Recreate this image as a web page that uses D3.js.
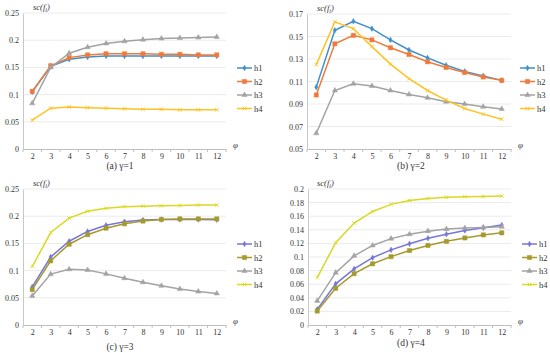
<!DOCTYPE html>
<html>
<head>
<meta charset="utf-8">
<script src="https://cdn.jsdelivr.net/npm/d3@7"></script>
<style>
  body { margin: 0; background: #fff; }
  svg text { font-family: "Liberation Serif", "DejaVu Serif", serif; fill: #333; }
</style>
</head>
<body>
<div id="chart"></div>
<script>
const phi = [2, 3, 4, 5, 6, 7, 8, 9, 10, 11, 12];
const seriesNames = ["h1", "h2", "h3", "h4"];

// (a) gamma = 1
const aH1 = [0.105, 0.152, 0.165, 0.169, 0.171, 0.171, 0.171, 0.171, 0.171, 0.171, 0.171];
const aH2 = [0.106, 0.153, 0.168, 0.173, 0.175, 0.175, 0.175, 0.174, 0.174, 0.173, 0.173];
const aH3 = [0.084, 0.150, 0.176, 0.187, 0.194, 0.198, 0.201, 0.203, 0.204, 0.205, 0.206];
const aH4 = [0.053, 0.075, 0.077, 0.076, 0.075, 0.074, 0.073, 0.073, 0.072, 0.072, 0.072];
const aTicks = [0, 0.05, 0.1, 0.15, 0.2, 0.25];

// (b) gamma = 2
const bH1 = [0.105, 0.1555, 0.1635, 0.157, 0.147, 0.138, 0.131, 0.1245, 0.119, 0.115, 0.111];
const bH2 = [0.098, 0.1435, 0.151, 0.147, 0.140, 0.134, 0.1275, 0.1225, 0.118, 0.114, 0.111];
const bH3 = [0.064, 0.102, 0.108, 0.106, 0.102, 0.0985, 0.0955, 0.092, 0.090, 0.0875, 0.0855];
const bH4 = [0.125, 0.163, 0.157, 0.141, 0.1255, 0.1125, 0.102, 0.0935, 0.086, 0.081, 0.0765];
const bTicks = [0.05, 0.07, 0.09, 0.11, 0.13, 0.15, 0.17];

// (c) gamma = 3
const cH1 = [0.070, 0.125, 0.154, 0.172, 0.1835, 0.190, 0.193, 0.194, 0.194, 0.194, 0.1935];
const cH2 = [0.065, 0.118, 0.1485, 0.166, 0.178, 0.186, 0.191, 0.194, 0.195, 0.195, 0.195];
const cH3 = [0.0535, 0.0935, 0.1025, 0.101, 0.094, 0.086, 0.0785, 0.072, 0.066, 0.0615, 0.058];
const cH4 = [0.1075, 0.170, 0.1965, 0.209, 0.2145, 0.2175, 0.2185, 0.219, 0.2195, 0.2205, 0.2205];
const cTicks = [0, 0.05, 0.1, 0.15, 0.2, 0.25];

// (d) gamma = 4
const dH1 = [0.023, 0.0605, 0.0825, 0.099, 0.1105, 0.1195, 0.1275, 0.1335, 0.139, 0.143, 0.147];
const dH2 = [0.0205, 0.054, 0.0755, 0.090, 0.1005, 0.1095, 0.117, 0.123, 0.128, 0.1325, 0.1355];
const dH3 = [0.0355, 0.077, 0.1017, 0.117, 0.127, 0.1335, 0.138, 0.141, 0.1425, 0.1435, 0.1445];
const dH4 = [0.0698, 0.121, 0.150, 0.167, 0.1774, 0.183, 0.186, 0.1877, 0.1887, 0.189, 0.1897];
const dTicks = [0, 0.02, 0.04, 0.06, 0.08, 0.1, 0.12, 0.14, 0.16, 0.18, 0.2];

const colorsAB = ["#3f8fcc", "#ef7a3c", "#a3a3a3", "#ffc223"];
const colorsCD = ["#7676d8", "#a59a2c", "#a3a3a3", "#d9d923"];

const panels = [
  {x0: 23, x1: 226, y0: 149, y1: 13, ticks: aTicks, series: [aH1, aH2, aH3, aH4], colors: colorsAB,
   caption: "(a) \u03b3=1", capX: 120, capY: 169, legX: 237, legY: 68, labX: 24},
  {x0: 307, x1: 511, y0: 149, y1: 14, ticks: bTicks, series: [bH1, bH2, bH3, bH4], colors: colorsAB,
   caption: "(b) \u03b3=2", capX: 411, capY: 169, legX: 520, legY: 68, labX: 308},
  {x0: 23, x1: 226, y0: 325, y1: 189, ticks: cTicks, series: [cH1, cH2, cH3, cH4], colors: colorsCD,
   caption: "(c) \u03b3=3", capX: 120, capY: 350, legX: 237, legY: 244, labX: 24},
  {x0: 308, x1: 511, y0: 325, y1: 189, ticks: dTicks, series: [dH1, dH2, dH3, dH4], colors: colorsCD,
   caption: "(d) \u03b3=4", capX: 411, capY: 346, legX: 522, legY: 244, labX: 308}
];

const svg = d3.select("#chart").append("svg")
  .attr("width", 550)
  .attr("height", 353);

const symbols = [d3.symbolDiamond, d3.symbolSquare, d3.symbolTriangle, d3.symbolTimes];
const symSizes = [9, 18, 12, 10];

function drawMarker(g, i, color, cx, cy) {
  g.append("path")
    .attr("d", d3.symbol().type(symbols[i]).size(symSizes[i])())
    .attr("transform", "translate(" + cx + "," + cy + ")")
    .attr("fill", i == 3 ? "none" : color)
    .attr("stroke", color)
    .attr("stroke-width", i == 3 ? 0.9 : 0.5);
}

panels.forEach(function (p) {
  const g = svg.append("g");

  const x = d3.scalePoint()
    .domain(phi)
    .range([p.x0, p.x1])
    .padding(0.5);

  const y = d3.scaleLinear()
    .domain([p.ticks[0], p.ticks[p.ticks.length - 1]])
    .range([p.y0, p.y1]);

  // gridlines
  g.selectAll(".grid")
    .data(p.ticks.slice(1))
    .enter()
    .append("line")
    .attr("x1", p.x0)
    .attr("x2", p.x1)
    .attr("y1", d => y(d))
    .attr("y2", d => y(d))
    .attr("stroke", "#e6e6e6")
    .attr("stroke-width", 0.8);

  // y axis
  const yAxis = g.append("g")
    .attr("transform", "translate(" + p.x0 + ",0)")
    .call(d3.axisLeft(y).tickValues(p.ticks).tickSize(0).tickPadding(4).tickFormat(d => String(+d.toFixed(2))));
  yAxis.select(".domain").attr("stroke", "#c8c8c8");
  yAxis.selectAll("text").style("font-size", "8px").style("font-family", "Liberation Serif");

  // x axis
  const xAxis = g.append("g")
    .attr("transform", "translate(0," + p.y0 + ")")
    .call(d3.axisBottom(x).tickSize(0).tickPadding(4));
  xAxis.select(".domain").attr("stroke", "#bfbfbf");
  xAxis.selectAll("text").style("font-size", "8px").style("font-family", "Liberation Serif");

  const step = x.step();
  g.selectAll(".xtick")
    .data(d3.range(phi.length + 1))
    .enter()
    .append("line")
    .attr("x1", d => p.x0 + d * step)
    .attr("x2", d => p.x0 + d * step)
    .attr("y1", p.y0)
    .attr("y2", p.y0 + 3)
    .attr("stroke", "#bfbfbf");

  // lines + markers
  p.series.forEach(function (vals, i) {
    const line = d3.line()
      .x((d, k) => x(phi[k]))
      .y(d => y(d));
    g.append("path")
      .datum(vals)
      .attr("d", line)
      .attr("fill", "none")
      .attr("stroke", p.colors[i])
      .attr("stroke-width", 1.5);
    vals.forEach(function (v, k) {
      drawMarker(g, i, p.colors[i], x(phi[k]), y(v));
    });
  });

  // legend
  seriesNames.forEach(function (name, i) {
    const ly = p.legY + i * 13.5;
    g.append("line")
      .attr("x1", p.legX)
      .attr("x2", p.legX + 15)
      .attr("y1", ly)
      .attr("y2", ly)
      .attr("stroke", p.colors[i])
      .attr("stroke-width", 1.5);
    drawMarker(g, i, p.colors[i], p.legX + 7.5, ly);
    g.append("text")
      .attr("x", p.legX + 17)
      .attr("y", ly + 3)
      .style("font-size", "8.5px")
      .text(name);
  });

  // axis titles
  const yt = g.append("text")
    .attr("x", p.labX + 9)
    .attr("y", p.y1 - 3)
    .style("font-size", "8.5px")
    .style("font-style", "italic");
  yt.append("tspan").text("sc(f");
  yt.append("tspan").attr("dy", 2).style("font-size", "6px").text("i");
  yt.append("tspan").attr("dy", -2).text(")");

  g.append("text")
    .attr("x", p.x1 + 7)
    .attr("y", p.y0 - 1)
    .style("font-size", "9px")
    .style("font-style", "italic")
    .text("\u03c6");

  g.append("text")
    .attr("x", p.capX)
    .attr("y", p.capY)
    .attr("text-anchor", "middle")
    .style("font-size", "9.5px")
    .text(p.caption);
});
</script>
</body>
</html>
